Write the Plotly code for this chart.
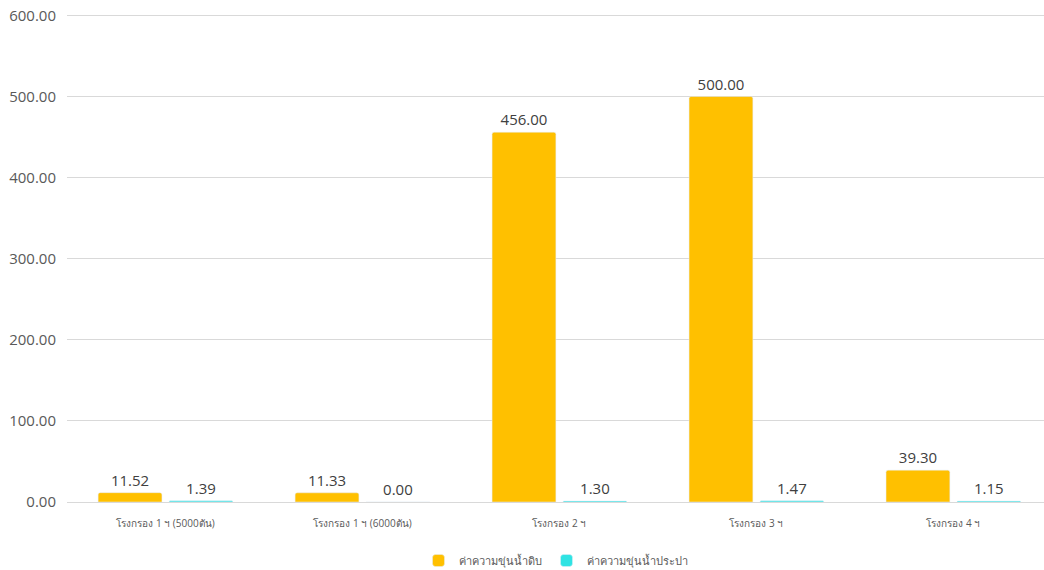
import plotly.graph_objects as go

categories = ["โรงกรอง 1 ฯ (5000ตัน)", "โรงกรอง 1 ฯ (6000ตัน)", "โรงกรอง 2 ฯ", "โรงกรอง 3 ฯ", "โรงกรอง 4 ฯ"]
raw_water = [11.52, 11.33, 456.00, 500.00, 39.30]
tap_water = [1.39, 0.00, 1.30, 1.47, 1.15]
series_names = ["ค่าความขุ่นน้ำดิบ", "ค่าความขุ่นน้ำประปา"]

fig = go.Figure()
fig.add_trace(go.Bar(
    x=categories, y=raw_water, name=series_names[0],
    marker=dict(color="#FFC000"),
    text=[f"{v:.2f}" for v in raw_water], textposition="outside",
    textfont=dict(size=15, color="#404040"), cliponaxis=False,
))
fig.add_trace(go.Bar(
    x=categories, y=tap_water, name=series_names[1],
    marker=dict(color="#2FE3E3"),
    text=[f"{v:.2f}" for v in tap_water], textposition="outside",
    textfont=dict(size=15, color="#404040"), cliponaxis=False,
))

fig.update_layout(
    width=1044, height=570,
    margin=dict(l=67, r=0, t=13, b=68, autoexpand=False),
    paper_bgcolor="white", plot_bgcolor="white",
    barmode="group", bargap=0.28, bargroupgap=0.1, barcornerradius=2,
    font=dict(family="Open Sans, Noto Sans, sans-serif", color="#595959"),
    xaxis=dict(range=[-0.5, 4.46], tickfont=dict(size=10, color="#595959"),
               showgrid=False, showline=False, ticks="", automargin=False,
               ticklabelstandoff=14),
    yaxis=dict(range=[0, 603], tickvals=[0, 100, 200, 300, 400, 500, 600],
               tickformat=".2f", automargin=False, ticklabeloverflow="allow",
               tickfont=dict(size=15, color="#595959"),
               gridcolor="#D9D9D9", gridwidth=1, zeroline=True,
               zerolinecolor="#D9D9D9", zerolinewidth=1, ticklabelstandoff=10),
    legend=dict(orientation="h", x=0.5, xanchor="center", y=-0.09, yanchor="top",
                font=dict(size=11, color="#595959"), itemwidth=30),
    showlegend=True,
)

fig.write_html("out.html", config={"displayModeBar": False},
               post_script="document.body.style.margin='0';")
